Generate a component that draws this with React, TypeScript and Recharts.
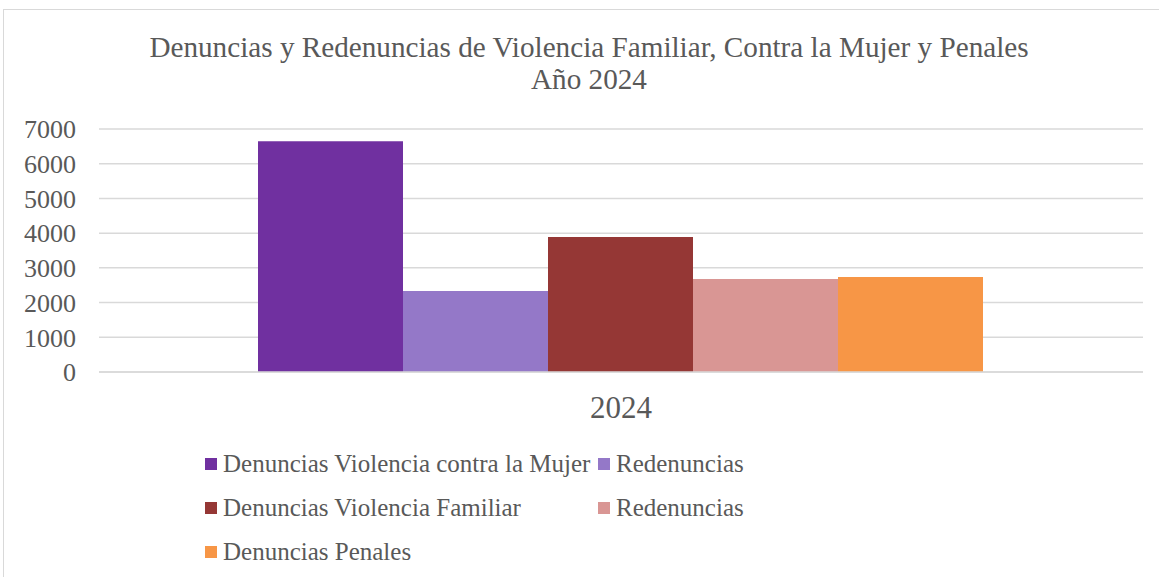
import React from 'react';
import { BarChart, Bar, XAxis, YAxis, CartesianGrid, Legend } from 'recharts';

const categories = ['2024'];
const seriesKeys = ['mujer', 'redMujer', 'familiar', 'redFamiliar', 'penales'];
const seriesNames = [
  'Denuncias Violencia contra la Mujer',
  'Redenuncias',
  'Denuncias Violencia Familiar',
  'Redenuncias',
  'Denuncias Penales',
];
const seriesColors = ['#7030a0', '#9478c8', '#953735', '#d99694', '#f79646'];
const denunciasMujer = [6650];
const redenunciasMujer = [2330];
const denunciasFamiliar = [3890];
const redenunciasFamiliar = [2680];
const denunciasPenales = [2740];
const yTicks = [0, 1000, 2000, 3000, 4000, 5000, 6000, 7000];

const seriesValues = [denunciasMujer, redenunciasMujer, denunciasFamiliar, redenunciasFamiliar, denunciasPenales];

const data = categories.map((year, i) => {
  const row: Record<string, string | number> = { year };
  seriesKeys.forEach((k, s) => {
    row[k] = seriesValues[s][i];
  });
  return row;
});

const FONT = '"Liberation Serif", serif';
const TEXT = '#595959';
const GRID = '#d9d9d9';

// legend in series order (recharts sorts the payload by name otherwise)
const LegendBox = (props: any) => {
  const payload = props.payload || [];
  const items = seriesKeys.map((k, i) => {
    const p = payload.find((it: any) => it.dataKey === k);
    return { key: k, value: p ? p.value : seriesNames[i], color: p ? p.color : seriesColors[i] };
  });
  return (
    <div
      style={{
        height: 140,
        boxSizing: 'border-box',
        paddingTop: 5,
        paddingLeft: 205,
        display: 'grid',
        gridTemplateColumns: '393px auto',
        gridAutoRows: '44px',
        fontFamily: FONT,
        fontSize: 25,
        color: TEXT,
      }}
    >
      {items.map((it) => (
        <div key={it.key} style={{ display: 'flex', alignItems: 'center', whiteSpace: 'nowrap' }}>
          <span style={{ width: 12, height: 12, background: it.color, marginRight: 6, display: 'inline-block' }} />
          <span>{it.value}</span>
        </div>
      ))}
    </div>
  );
};

export default function App() {
  return (
    <div style={{ position: 'absolute', left: 0, top: 0, width: 1159, height: 577, overflow: 'hidden', background: '#fff' }}>
      <div
        style={{
          position: 'absolute',
          left: 3,
          top: 9,
          width: 1200,
          height: 700,
          border: `1.5px solid ${GRID}`,
          pointerEvents: 'none',
        }}
      />
      <div
        style={{
          position: 'absolute',
          top: 31,
          left: 289,
          width: 600,
          textAlign: 'center',
          fontFamily: FONT,
          fontSize: 29.2,
          lineHeight: '32px',
          color: TEXT,
          whiteSpace: 'nowrap',
          display: 'flex',
          flexDirection: 'column',
          alignItems: 'center',
        }}
      >
        <div>Denuncias y Redenuncias de Violencia Familiar, Contra la Mujer y Penales</div>
        <div>Año 2024</div>
      </div>
      <BarChart
        width={1159}
        height={577}
        data={data}
        margin={{ top: 129, right: 16, bottom: 0, left: 0 }}
        barCategoryGap={159}
        barGap={0}
      >
        <CartesianGrid vertical={false} stroke={GRID} strokeWidth={1.5} />
        <XAxis
          dataKey="year"
          height={65}
          tickLine={false}
          axisLine={{ stroke: GRID, strokeWidth: 1.5 }}
          tickSize={6}
          tickMargin={18}
          tick={{ fill: TEXT, fontSize: 31, fontFamily: FONT }}
        />
        <YAxis
          width={99}
          domain={[0, 7000]}
          ticks={yTicks}
          interval={0}
          tickLine={false}
          axisLine={false}
          tickSize={6}
          tickMargin={17}
          tick={{ fill: TEXT, fontSize: 26, fontFamily: FONT }}
        />
        <Legend
          verticalAlign="bottom"
          content={<LegendBox />}
          wrapperStyle={{ left: 0, bottom: 0, width: 1159, height: 140 }}
        />
        {seriesKeys.map((k, i) => (
          <Bar key={k} dataKey={k} name={seriesNames[i]} fill={seriesColors[i]} isAnimationActive={false} />
        ))}
      </BarChart>
    </div>
  );
}
